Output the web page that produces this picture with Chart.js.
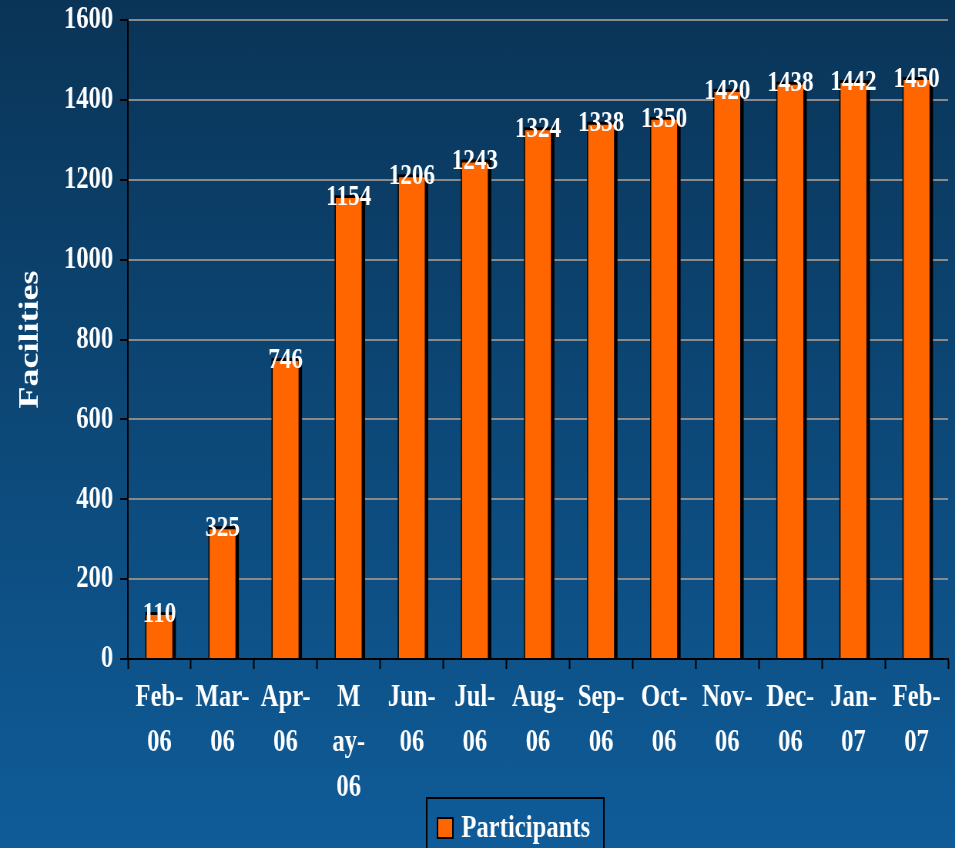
<!DOCTYPE html>
<html>
<head>
<meta charset="utf-8">
<script src="https://cdn.jsdelivr.net/npm/chart.js@4/dist/chart.umd.min.js"></script>
<style>
  html, body { margin: 0; padding: 0; width: 955px; height: 848px; overflow: hidden; }
  body { background: linear-gradient(to bottom, #0a3457 0%, #0c4674 45%, #0f5c99 100%); }
  #wrap { position: absolute; left: 0; top: 0; width: 1240px; height: 848px; transform: scaleX(0.7702); transform-origin: 0 0; }
</style>
</head>
<body>
<div id="wrap"><canvas id="c"></canvas></div>
<script>
const categories = [['Feb-','06'],['Mar-','06'],['Apr-','06'],['M','ay-','06'],['Jun-','06'],['Jul-','06'],['Aug-','06'],['Sep-','06'],['Oct-','06'],['Nov-','06'],['Dec-','06'],['Jan-','07'],['Feb-','07']];
const participants = [110, 325, 746, 1154, 1206, 1243, 1324, 1338, 1350, 1420, 1438, 1442, 1450];
const seriesName = 'Participants';
const yAxisTitle = 'Facilities';
const yMin = 0, yMax = 1600, yStep = 200;

const FONT = "'Liberation Serif', 'Times New Roman', serif";
const ORANGE = '#ff6600';

const shadowAndLabels = {
  id: 'shadowAndLabels',
  beforeDatasetsDraw(chart) {
    const ctx = chart.ctx;
    ctx.save();
    ctx.fillStyle = '#000';
    const meta = chart.getDatasetMeta(0);
    meta.data.forEach((bar) => {
      const w = bar.width;
      ctx.fillRect(bar.x - w / 2 - 1.5, bar.y - 3, w + 6, bar.base - bar.y + 3);
    });
    ctx.restore();
  },
  afterDatasetsDraw(chart) {
    const ctx = chart.ctx;
    ctx.save();
    ctx.fillStyle = '#fff';
    ctx.font = "bold 30px " + FONT;
    ctx.textAlign = 'center';
    ctx.textBaseline = 'middle';
    const meta = chart.getDatasetMeta(0);
    meta.data.forEach((bar, i) => {
      ctx.fillText(String(chart.data.datasets[0].data[i]), bar.x, bar.y - 1);
    });
    ctx.restore();
  }
};

const boxLegend = {
  id: 'boxLegend',
  afterDraw(chart) {
    const ctx = chart.ctx;
    const ds = chart.data.datasets[0];
    ctx.save();
    const left = 554, top = 798, w = 230, h = 62;
    ctx.strokeStyle = '#000';
    ctx.lineWidth = 2;
    ctx.strokeRect(left, top, w, h);
    ctx.fillStyle = ds.backgroundColor;
    ctx.fillRect(568, 818, 20, 20);
    ctx.lineWidth = 2;
    ctx.strokeRect(568, 818, 20, 20);
    ctx.fillStyle = '#fff';
    ctx.font = "bold 32px " + FONT;
    ctx.textAlign = 'left';
    ctx.textBaseline = 'middle';
    ctx.fillText(ds.label, 599, 829);
    ctx.restore();
  }
};

new Chart(document.getElementById('c'), {
  type: 'bar',
  data: {
    labels: categories,
    datasets: [{
      label: seriesName,
      data: participants,
      backgroundColor: ORANGE,
      borderWidth: 0,
      barPercentage: 0.41,
      categoryPercentage: 1.0
    }]
  },
  options: {
    responsive: true,
    maintainAspectRatio: false,
    animation: false,
    layout: { padding: { top: 20, right: 9, bottom: 0, left: 0 } },
    plugins: {
      legend: { display: false },
      tooltip: { enabled: false },
      title: { display: false }
    },
    scales: {
      x: {
        afterFit(s) { s.height = 189; s.paddingLeft = 0; s.paddingRight = 0; },
        grid: { drawOnChartArea: false, drawTicks: true, tickColor: '#000', tickWidth: 2, tickLength: 10, offset: true },
        border: { color: '#000', width: 2 },
        ticks: {
          color: '#fff', padding: 6, maxRotation: 0, minRotation: 0, autoSkip: false,
          font: { family: FONT, size: 32, weight: 'bold', lineHeight: 1.406 }
        }
      },
      y: {
        min: yMin, max: yMax,
        afterFit(s) { s.width = 166; s.paddingTop = 0; s.paddingBottom = 0; },
        grid: { color: '#8a8a8a', lineWidth: 2, tickColor: '#000', tickWidth: 2, tickLength: 10 },
        border: { color: '#000', width: 2 },
        ticks: {
          stepSize: yStep, color: '#fff', padding: 9,
          callback: (v) => String(v),
          font: { family: FONT, size: 32, weight: 'bold' }
        },
        title: {
          display: true, text: yAxisTitle, color: '#fff',
          font: { family: FONT, size: 36, weight: 'bold' },
          padding: { top: 18, bottom: 0 }
        }
      }
    }
  },
  plugins: [shadowAndLabels, boxLegend]
});
</script>
</body>
</html>
